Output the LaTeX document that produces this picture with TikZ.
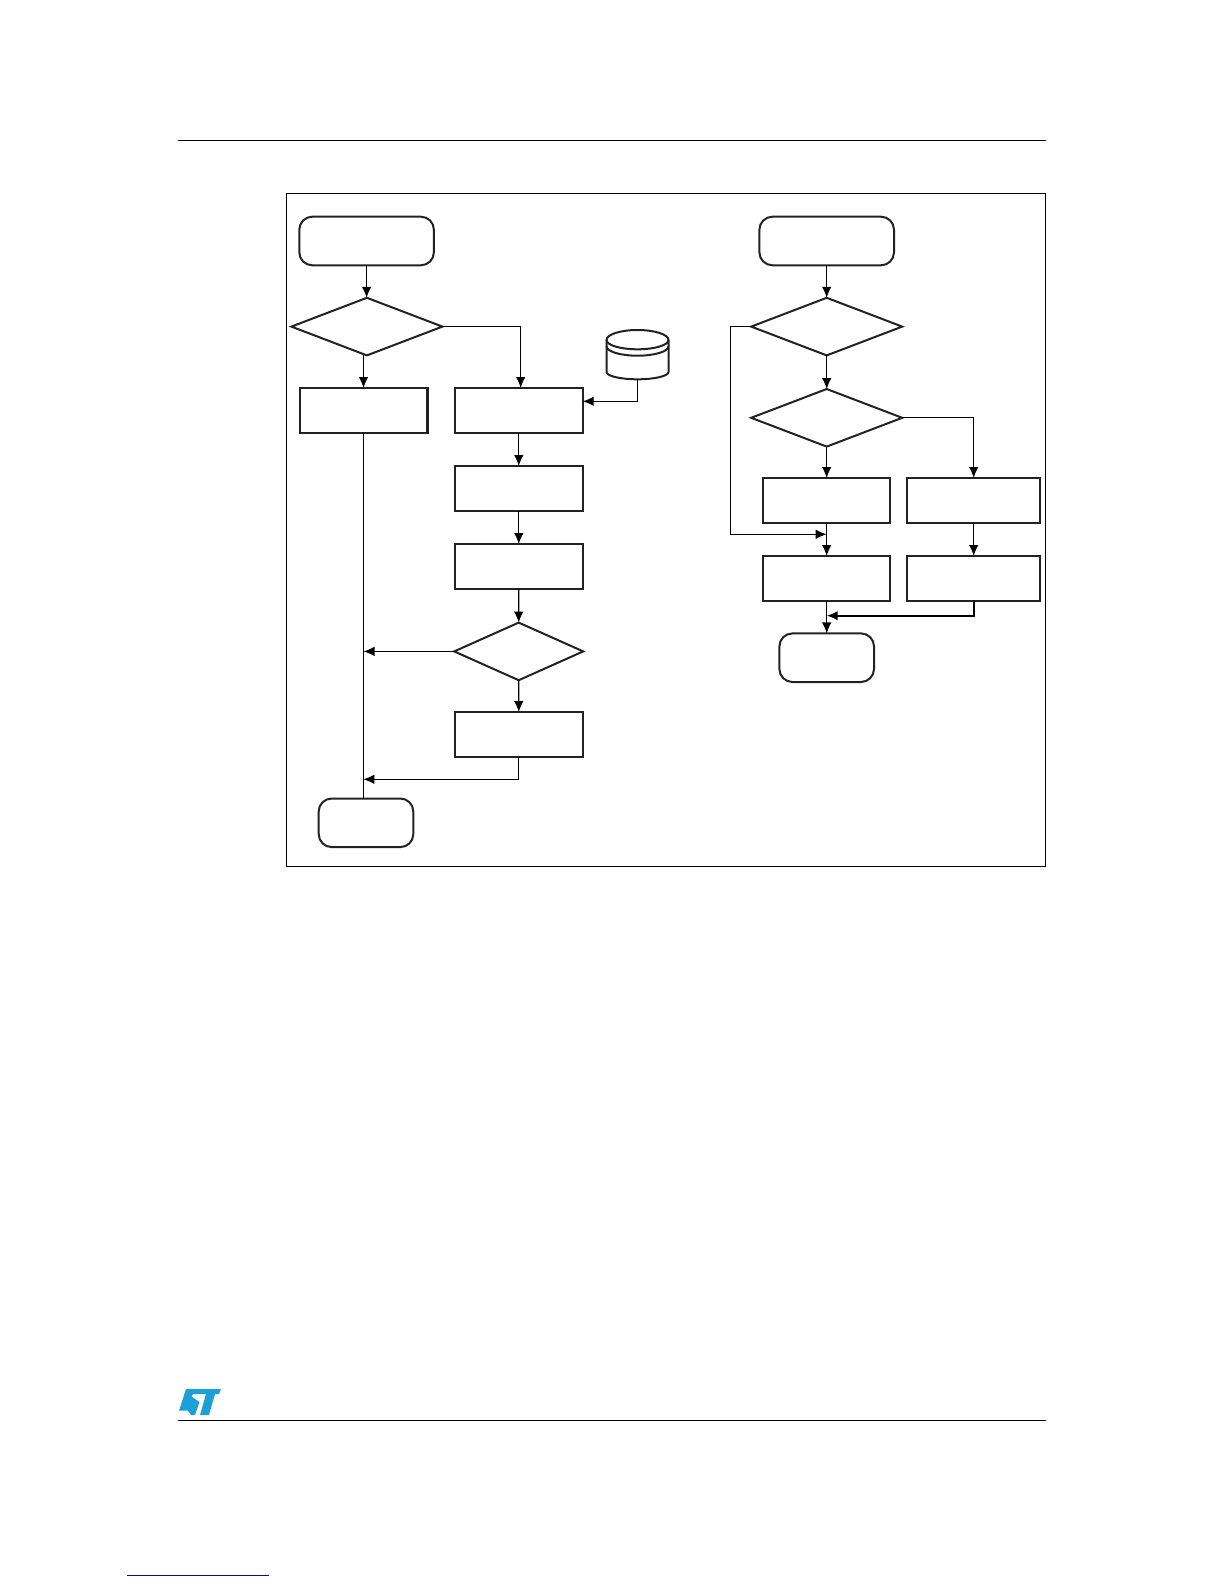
\documentclass[tikz,border=0pt]{standalone}
\usetikzlibrary{shapes.geometric,arrows.meta}
\definecolor{stblue}{RGB}{27,160,216}
\definecolor{linkblue}{RGB}{10,10,150}
\definecolor{boxline}{RGB}{34,34,34}
\tikzset{
  boxnode/.style={draw=boxline,line width=1pt,rectangle,inner sep=0pt,outer sep=0pt,minimum width=63.7pt,minimum height=22.5pt},
  widebox/.style={boxnode,minimum width=66.5pt},
  heavybox/.style={boxnode,line width=1.3pt},
  decision/.style={draw=boxline,line width=1pt,diamond,inner sep=0pt,outer sep=0pt,minimum width=75.5pt,minimum height=28.8pt},
  smalldecision/.style={decision,minimum width=64.5pt},
  terminal/.style={draw=boxline,line width=1pt,rectangle,rounded corners=6.5pt,inner sep=0pt,outer sep=0pt,minimum width=67.3pt,minimum height=24.3pt},
  smallterminal/.style={terminal,minimum width=47.3pt},
  link/.style={line width=0.6pt},
  arr/.style={link,-{Latex[length=5.5pt,width=4.8pt]}},
}
\begin{document}
\begin{tikzpicture}[x=0.5pt,y=-0.5pt]
\useasboundingbox (0,0) rectangle (1224,1584);
% page furniture
\draw[line width=0.7pt] (178,140.3) -- (1046,140.3);
\draw[line width=0.7pt] (178,1420.3) -- (1046,1420.3);
\draw[line width=0.7pt,linkblue] (127,1575.3) -- (268.7,1575.3);
\fill[stblue] (186,1389) -- (221,1389) -- (219,1394) -- (215,1394) -- (209,1415) -- (200,1415) -- (206,1394) -- (193,1394) -- (191.5,1396.5) -- (199.5,1402) -- (195,1415) -- (191,1415) -- (188,1410.7) -- (179,1410.7) -- cycle;
% frame
\draw[line width=0.5pt] (286,193.7) rectangle (1045,866);
% left flow
\node[terminal] (start1) at (366.6,241) {};
\node[decision] (d1) at (366.9,326.6) {};
\node[heavybox] (b1) at (363.5,410.5) {};
\node[boxnode] (b2) at (518.8,410.5) {};
\node[boxnode] (b3) at (518.8,488.5) {};
\node[boxnode] (b4) at (518.8,566.5) {};
\node[smalldecision] (d2) at (518.7,651.4) {};
\node[boxnode] (b5) at (518.8,734.5) {};
\node[smallterminal] (e1) at (366,822.8) {};
% disk
\coordinate (db) at (637.7,379.3);
\draw[boxline,line width=1pt,fill=white] (606.5,340) -- (606.5,372) arc (180:0:31 and 7.3) -- (668.5,340) arc (0:-180:31 and 10) -- cycle;
\draw[boxline,line width=1pt] (606.5,340) arc (180:0:31 and 9.3);
\draw[boxline,line width=1pt] (606.5,346.3) arc (180:0:31 and 9.4);
\coordinate (b2in) at (520.7,388);
\coordinate (j1) at (363.3,779.3);
\coordinate (dbin) at (582.7,401.3);
\draw[arr] (start1.south) -- (start1.south |- d1.north);
\draw[arr] (b1.north |- d1.south) -- (b1.north);
\draw[arr] (d1.east) -| (b2in);
\draw[arr] (db) |- (dbin);
\draw[arr] (b2.south) -- (b3.north);
\draw[arr] (b3.south) -- (b4.north);
\draw[arr] (b4.south) -- (d2.north);
\draw[arr] (d2.south) -- (b5.north);
\draw[arr] (d2.west) -- (d2.west -| b1.south);
\draw[arr] (b5.south) |- (j1);
\draw[link] (b1.south) -- (b1.south |- e1.north);
% right flow
\node[terminal] (start2) at (826.7,241) {};
\node[decision] (d3) at (826.7,326.6) {};
\node[decision] (d4) at (826.7,417.8) {};
\node[boxnode] (b6) at (826.7,500.5) {};
\node[widebox] (b7) at (973.7,500.5) {};
\node[boxnode] (b8) at (826.7,578.5) {};
\node[widebox] (b9) at (973.7,578.5) {};
\node[smallterminal] (e2) at (826.7,657.7) {};
\coordinate (loop) at (730.7,534.3);
\coordinate (j2) at (826.7,615.7);
\draw[arr] (start2.south) -- (d3.north);
\draw[arr] (d3.south) -- (d4.north);
\draw[arr] (d4.south) -- (b6.north);
\draw[arr] (d4.east) -| (b7.north);
\draw[arr] (d3.west) -| (loop) -- (b6.south |- loop);
\draw[arr] (b6.south) -- (b8.north);
\draw[arr] (b7.south) -- (b9.north);
\draw[arr] (b8.south) -- (e2.north);
\draw[arr,line width=1pt] (b9.south) |- (j2);
\end{tikzpicture}
\end{document}
